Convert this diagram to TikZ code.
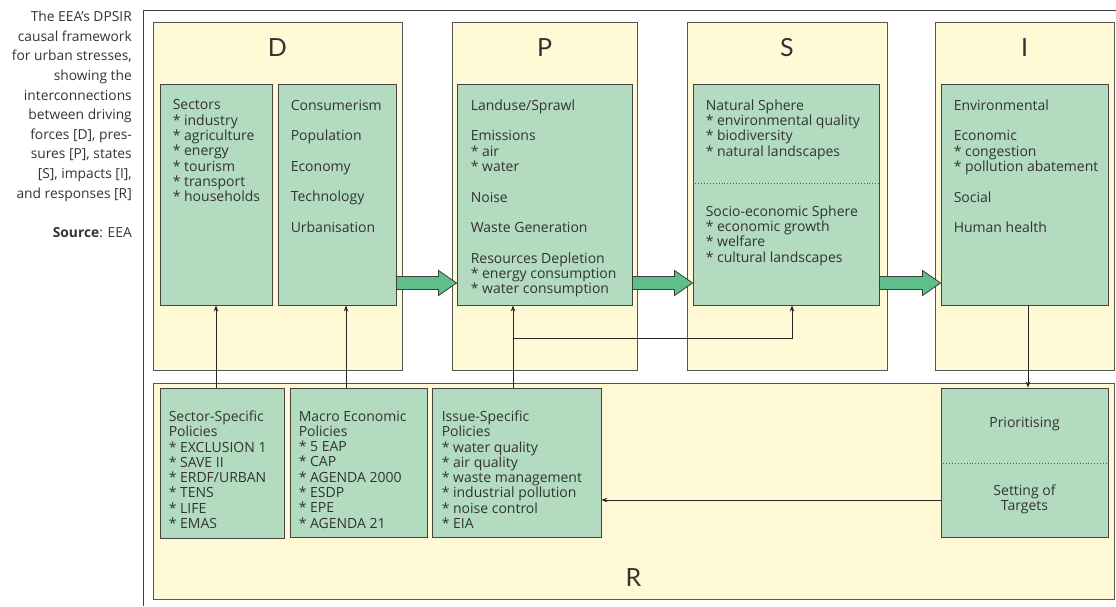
\documentclass[tikz,border=0pt]{standalone}
\usepackage{fontspec}
\setmainfont{Open Sans}
\newfontfamily\labfont{Lato}
\usetikzlibrary{fit,calc,arrows.meta}
\definecolor{cream}{HTML}{FFF9D6}
\definecolor{boxgreen}{HTML}{B3DBC0}
\definecolor{arrowgreen}{HTML}{5FBF8B}
\definecolor{edgegray}{HTML}{555555}
\definecolor{txtgray}{HTML}{333333}
\newcommand\fatarr[2]{\draw[fat] ($(#1)+(0,-6.5)$) -- ($(#2)+(-18,-6.5)$) -- ($(#2)+(-18,-12.5)$) -- (#2) -- ($(#2)+(-18,12.5)$) -- ($(#2)+(-18,6.5)$) -- ($(#1)+(0,6.5)$) -- cycle;}
\begin{document}
\begin{tikzpicture}[x=1pt,y=-1pt,
  outerbox/.style={draw=edgegray, fill=cream, line width=0.9pt, inner sep=0pt},
  greenbox/.style={draw=edgegray!80!black, fill=boxgreen, line width=0.9pt, inner sep=0pt},
  body/.style={text=txtgray, font=\fontsize{14}{15.3}\selectfont, align=left, inner sep=0pt},
  bodyc/.style={text=txtgray, font=\fontsize{14}{15.3}\selectfont, align=center, inner sep=0pt},
  biglabel/.style={text=txtgray, font=\labfont\fontsize{25}{27}\selectfont, inner sep=0pt},
  captext/.style={text=txtgray, font=\fontsize{13.8}{19.6}\selectfont, align=right, inner sep=0pt},
  fat/.style={draw=edgegray!70!black, fill=arrowgreen, line width=0.8pt, line join=miter},
  arr/.style={draw=black!85, line width=0.8pt, -{Stealth[length=6pt,width=4.5pt]}},
  dotline/.style={draw=edgegray, line width=0.9pt, dotted},
  framel/.style={draw=black!75, line width=0.9pt}]
\useasboundingbox (0,0) rectangle (1116,606);
% frame
\coordinate (fbl) at (143,606);
\coordinate (ftl) at (143,10);
\coordinate (ftr) at (1116,10);
\draw[framel] (fbl) -- (ftl) -- (ftr);
% caption
\node[captext, anchor=north east] (cap) at (132,11) {The EEA’s DPSIR\\causal framework\\for urban stresses,\\showing the\\interconnections\\between driving\\forces [D], pres-\\sures [P], states\\{}[S], impacts [I],\\and responses [R]};
\node[captext, anchor=east] (src) at (132,233) {\textbf{Source}: EEA};
% outer boxes
\node[outerbox, fit={(153,22) (402,370)}] (D) {};
\node[outerbox, fit={(452,22) (637,370)}] (P) {};
\node[outerbox, fit={(687,22) (887,370)}] (S) {};
\node[outerbox, fit={(935,22) (1114,370)}] (I) {};
\node[outerbox, fit={(153,383) (1114,599)}] (R) {};
% big labels
\node[biglabel] (lD) at (277.5,48) {D};
\node[biglabel] (lP) at (544.5,48) {P};
\node[biglabel] (lS) at (787,48) {S};
\node[biglabel] (lI) at (1024.5,48) {I};
\node[biglabel] (lR) at (633.5,578) {R};
% inner boxes
\node[greenbox, fit={(160,84) (272,305)}] (d1) {};
\node[greenbox, fit={(278,84) (396,305)}] (d2) {};
\node[greenbox, fit={(457,84) (632,305)}] (p1) {};
\node[greenbox, fit={(693,84) (879,305)}] (s1) {};
\node[greenbox, fit={(941,84) (1108,305)}] (i1) {};
\node[greenbox, fit={(160,388) (284,538)}] (sec) {};
\node[greenbox, fit={(290,388) (427,537)}] (mac) {};
\node[greenbox, fit={(432,388) (601,537)}] (iss) {};
\node[greenbox, fit={(941,388) (1108,537)}] (pri) {};
% dotted separators
\draw[dotline] (s1.west |- 0,183) -- (s1.east |- 0,183);
\draw[dotline] (pri.west |- 0,463) -- (pri.east |- 0,463);
% texts
\node[body, anchor=north west] (td1) at ($(d1.north west)+(13,16)$) {Sectors\\* industry\\* agriculture\\* energy\\* tourism\\* transport\\* households};
\node[body, anchor=north west] (td2) at ($(d2.north west)+(13,16)$) {Consumerism\\[15.3pt]Population\\[15.3pt]Economy\\[15.3pt]Technology\\[15.3pt]Urbanisation};
\node[body, anchor=north west] (tp1) at ($(p1.north west)+(14,16)$) {Landuse/Sprawl\\[15.3pt]Emissions\\* air\\* water\\[15.3pt]Noise\\[15.3pt]Waste Generation\\[15.3pt]Resources Depletion\\* energy consumption\\* water consumption};
\node[body, anchor=north west] (ts1) at ($(s1.north west)+(13,16)$) {Natural Sphere\\* environmental quality\\* biodiversity\\* natural landscapes};
\node[body, anchor=north west] (ts2) at ($(s1.north west)+(13,122)$) {Socio-economic Sphere\\* economic growth\\* welfare\\* cultural landscapes};
\node[body, anchor=north west] (ti1) at ($(i1.north west)+(13,16)$) {Environmental\\[15.3pt]Economic\\* congestion\\* pollution abatement\\[15.3pt]Social\\[15.3pt]Human health};
\node[body, anchor=north west] (tsec) at ($(sec.north west)+(9,23)$) {Sector-Specific\\Policies\\* EXCLUSION 1\\* SAVE II\\* ERDF/URBAN\\* TENS\\* LIFE\\* EMAS};
\node[body, anchor=north west] (tmac) at ($(mac.north west)+(9,23)$) {Macro Economic\\Policies\\* 5 EAP\\* CAP\\* AGENDA 2000\\* ESDP\\* EPE\\* AGENDA 21};
\node[body, anchor=north west] (tiss) at ($(iss.north west)+(10,23)$) {Issue-Specific\\Policies\\* water quality\\* air quality\\* waste management\\* industrial pollution\\* noise control\\* EIA};
\node[bodyc] (tpri) at (1024.5,424) {Prioritising};
\node[bodyc] (tset) at (1024.5,499) {Setting of\\Targets};
% fat arrows
\coordinate (ya) at (0,283);
\coordinate (a1s) at (d2.east |- ya);
\coordinate (a1e) at (p1.west |- ya);
\coordinate (a2s) at (p1.east |- ya);
\coordinate (a2e) at (s1.west |- ya);
\coordinate (a3s) at (s1.east |- ya);
\coordinate (a3e) at (i1.west |- ya);
\fatarr{a1s}{a1e}
\fatarr{a2s}{a2e}
\fatarr{a3s}{a3e}
% thin connectors
\coordinate (x1) at (216,0);
\coordinate (x2) at (346,0);
\coordinate (x3) at (513,0);
\coordinate (x4) at (792,0);
\coordinate (x5) at (1028,0);
\coordinate (yb) at (0,338);
\coordinate (yc) at (0,500);
\draw[arr] (x1 |- sec.north) -- (x1 |- d1.south);
\draw[arr] (x2 |- mac.north) -- (x2 |- d2.south);
\draw[arr] (x3 |- iss.north) -- (x3 |- p1.south);
\draw[arr] (x3 |- yb) -- (x4 |- yb) -- (x4 |- s1.south);
\draw[arr] (x5 |- i1.south) -- (x5 |- pri.north);
\draw[arr] (pri.west |- yc) -- (iss.east |- yc);
\end{tikzpicture}
\end{document}
